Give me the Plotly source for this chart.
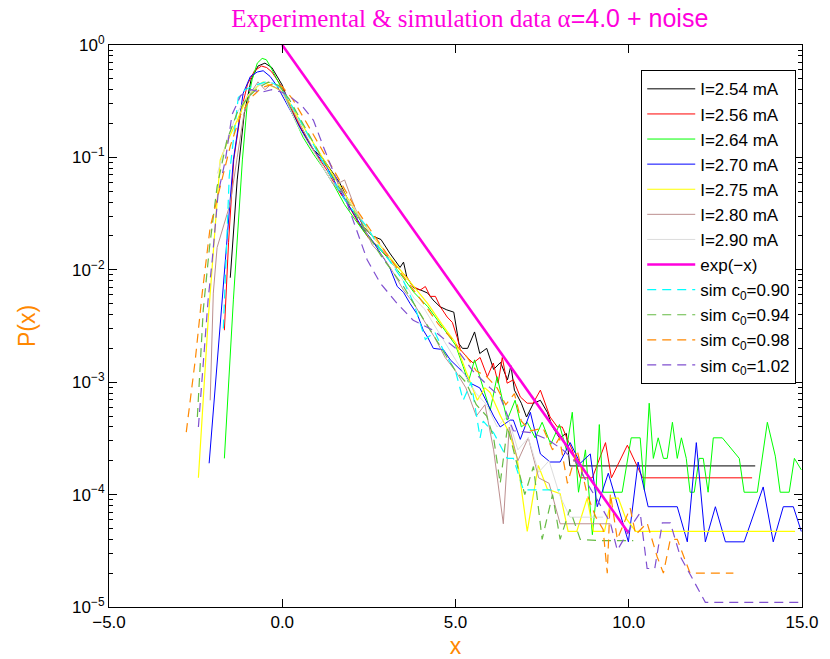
import plotly.graph_objects as go

# ---------------- data ----------------
x_254 = [-1.5, -1.3, -1.1, -0.9, -0.7, -0.5, -0.3, 0.0, 0.2, 0.45, 0.7, 0.9, 1.15, 1.4, 1.65, 1.9, 2.15, 2.35,
         2.6, 2.85, 3.1, 3.4, 3.5, 3.6, 3.8, 4.0, 4.2, 4.35, 4.55, 4.75, 4.95, 5.1, 5.2, 5.35, 5.55, 5.7, 5.9, 6.1,
         6.3, 6.5, 6.6, 6.7, 6.9, 7.05, 7.25, 7.45, 7.65, 7.8, 8.0, 8.2, 8.3, 13.65]
p_254 = [8.5e-3, 0.063, 0.24, 0.49, 0.65, 0.69, 0.63, 0.44, 0.30, 0.20, 0.15, 0.117, 0.10, 0.078, 0.060, 0.042, 0.032, 0.024,
         0.020, 0.0186, 0.0141, 0.0105, 0.0117, 0.0085, 0.0069, 0.0066, 0.0062, 0.0054, 0.0047, 0.0044, 0.0042, 0.0022, 0.0020, 0.0020, 0.0028, 0.0018, 0.0020, 0.0013,
         0.0015, 0.00105, 0.0014, 8.5e-4, 6.5e-4, 4.9e-4, 6.5e-4, 6.9e-4, 5.4e-4, 4.0e-4, 3.2e-4, 3.5e-4, 1.8e-4, 1.8e-4]

x_256 = [-1.67, -1.55, -1.4, -1.2, -1.0, -0.8, -0.6, -0.45, -0.3, 0.0, 0.25, 0.5, 0.75, 1.0, 1.3, 1.6, 1.9, 2.2, 2.5, 2.8,
         3.1, 3.4, 3.61, 3.78, 3.98, 4.13, 4.27, 4.42, 4.56, 4.76, 4.91, 5.05, 5.14, 5.34, 5.51, 5.71, 5.92, 6.09, 6.23, 6.35,
         6.49, 6.67, 6.87, 7.07, 7.24, 7.45, 7.59, 7.73, 7.94, 8.08, 8.23, 8.37, 8.6, 8.95, 9.33, 9.5, 9.96, 10.4, 13.56]
p_256 = [2.9e-3, 0.0174, 0.095, 0.25, 0.45, 0.59, 0.65, 0.63, 0.575, 0.42, 0.275, 0.19, 0.135, 0.105, 0.076, 0.052, 0.038, 0.026, 0.019, 0.0158,
         0.0126, 0.010, 0.0085, 0.0071, 0.0066, 0.0071, 0.0058, 0.0058, 0.0047, 0.0038, 0.0034, 0.0025, 0.00195, 0.00166, 0.00148, 0.00166, 0.00112, 0.00148, 9.8e-4, 0.00166,
         9.8e-4, 0.00105, 7.4e-4, 6.5e-4, 6.5e-4, 8.5e-4, 6.5e-4, 4.9e-4, 4.0e-4, 4.0e-4, 3.1e-4, 2.5e-4, 1.41e-4, 1.41e-4, 2.9e-4, 1.41e-4, 2.75e-4, 1.41e-4, 1.41e-4]

x_264 = [-1.67, -1.41, -1.15, -1.01, -0.87, -0.72, -0.58, -0.46, -0.35, -0.2, 0.0, 0.3, 0.6, 0.9, 1.2, 1.5, 1.8, 2.1, 2.4, 2.7,
         3.0, 3.4, 3.8, 4.2, 4.6, 5.0, 5.22, 5.37, 5.55, 5.8, 6.0, 6.2, 6.49, 6.72, 6.9, 7.07, 7.3, 7.5, 7.75, 8.0,
         8.2, 8.37, 8.55, 8.75, 8.95, 9.03, 9.15, 9.26, 9.52, 9.81, 10.07, 10.33, 10.45, 10.59, 10.71, 10.85, 11.0, 11.11, 11.26, 11.4,
         11.52, 11.66, 11.77, 11.89, 12.03, 12.15, 12.29, 12.44, 12.7, 13.19, 13.33, 13.71, 14.0, 14.23, 14.37, 14.63, 14.78, 14.98]
p_264 = [2.1e-4, 5.4e-3, 0.095, 0.30, 0.49, 0.69, 0.76, 0.74, 0.65, 0.525, 0.40, 0.24, 0.151, 0.107, 0.079, 0.056, 0.038, 0.028, 0.021, 0.0166,
         0.0132, 0.0093, 0.0063, 0.0047, 0.0032, 0.00214, 0.00138, 0.0010, 0.00158, 8.9e-4, 5.6e-4, 0.00112, 4.6e-4, 6.9e-4, 4.0e-4, 4.4e-4, 3.2e-4, 4.4e-4, 2.8e-4, 4.2e-4,
         2.5e-4, 5.4e-4, 1.05e-4, 2.5e-4, 4.4e-5, 7.8e-5, 4.2e-4, 1.05e-4, 1.05e-4, 1.05e-4, 3.2e-4, 3.2e-4, 1.1e-4, 6.5e-4, 2.1e-4, 3.2e-4, 2.1e-4, 2.1e-4, 4.4e-4, 2.1e-4,
         3.2e-4, 2.1e-4, 1.05e-4, 1.05e-4, 2.1e-4, 2.1e-4, 1.05e-4, 3.2e-4, 3.2e-4, 2.1e-4, 1.05e-4, 1.05e-4, 4.4e-4, 2.2e-4, 1.05e-4, 1.05e-4, 2.1e-4, 1.66e-4]

x_270 = [-2.11, -1.76, -1.41, -1.13, -0.92, -0.72, -0.55, -0.35, -0.14, 0.23, 0.72, 1.0, 1.3, 1.59, 1.96, 2.3, 2.6, 2.83, 3.1, 3.32,
         3.5, 3.69, 3.9, 4.07, 4.2, 4.36, 4.65, 4.85, 5.05, 5.25, 5.43, 5.7, 5.92, 6.1, 6.29, 6.58, 6.67, 6.87, 7.16, 7.45,
         7.73, 8.02, 8.31, 8.6, 8.89, 9.09, 9.41, 9.84, 9.99, 10.27, 10.56, 11.4, 11.69, 11.95, 12.21, 12.5, 12.79, 13.33, 13.88, 14.17,
         14.46, 14.75, 14.98]
p_270 = [1.9e-4, 4.4e-3, 0.095, 0.37, 0.525, 0.575, 0.59, 0.525, 0.427, 0.263, 0.141, 0.107, 0.081, 0.055, 0.0355, 0.024, 0.0182, 0.0141, 0.0105, 0.0071,
         0.0063, 0.0050, 0.0040, 0.0029, 0.0025, 0.0020, 0.00195, 0.00158, 0.00138, 0.0012, 9.8e-4, 8.9e-4, 6.5e-4, 5.0e-4, 4.0e-4, 4.6e-4, 4.6e-4, 3.1e-4, 5.4e-4, 2.3e-4,
         1.95e-4, 1.95e-4, 2.9e-4, 1.9e-4, 2.3e-4, 7.8e-5, 1.55e-4, 5.6e-5, 3.8e-5, 1.95e-4, 7.8e-5, 7.8e-5, 3.8e-5, 2.9e-4, 3.8e-5, 7.8e-5, 3.8e-5, 3.8e-5, 1.17e-4, 3.8e-5,
         7.8e-5, 7.8e-5, 4.7e-5]

x_275 = [-2.42, -2.14, -1.79, -1.5, -1.3, -1.01, -0.72, -0.55, -0.35, -0.06, 0.23, 0.6, 1.0, 1.4, 1.8, 2.2, 2.6, 3.0, 3.4, 3.8,
         4.2, 4.6, 5.0, 5.3, 5.63, 5.85, 6.0, 6.3, 6.55, 6.78, 7.07, 7.39, 7.65, 8.02, 8.25, 8.5, 8.8, 8.98, 9.3, 9.5,
         9.7, 9.9, 10.2, 14.8]
p_275 = [1.41e-4, 3.5e-3, 0.095, 0.158, 0.214, 0.347, 0.427, 0.468, 0.437, 0.398, 0.30, 0.19, 0.12, 0.076, 0.048, 0.030, 0.020, 0.0141, 0.010, 0.0071,
         0.0050, 0.0033, 0.00224, 0.00126, 6.9e-4, 8.9e-4, 8.1e-4, 5.0e-4, 3.55e-4, 2.1e-4, 4.7e-5, 1.82e-4, 1.12e-4, 1.02e-4, 4.7e-5, 4.7e-5, 9.3e-5, 4.7e-5, 4.7e-5, 9.3e-5,
         9.3e-5, 6.3e-5, 4.7e-5, 4.7e-5]

x_280 = [-2.08, -1.99, -1.88, -1.7, -1.5, -1.3, -1.1, -0.9, -0.7, -0.5, -0.35, -0.2, 0.0, 0.3, 0.6, 0.9, 1.2, 1.5, 1.8, 2.1,
         2.35, 2.6, 2.9, 3.2, 3.5, 3.8, 4.1, 4.4, 4.7, 5.0, 5.3, 5.6, 5.85, 6.1, 6.38, 6.55, 6.8, 7.1, 7.4, 7.7,
         8.02, 9.47]
p_280 = [6.9e-4, 6.2e-3, 0.0158, 0.024, 0.039, 0.10, 0.25, 0.38, 0.47, 0.40, 0.44, 0.42, 0.38, 0.263, 0.178, 0.12, 0.079, 0.056, 0.063, 0.0355,
         0.024, 0.0166, 0.0132, 0.0095, 0.0066, 0.0050, 0.0035, 0.0025, 0.00166, 0.00126, 8.9e-4, 5.0e-4, 6.3e-4, 2.5e-4, 5.5e-5, 4.0e-4, 2.0e-4, 3.2e-4, 1.41e-4, 1.26e-4,
         5.5e-5, 5.5e-5]

x_290 = [-1.87, -1.6, -1.3, -1.0, -0.7, -0.4, -0.1, 0.2, 0.5, 0.8, 1.1, 1.4, 1.7, 2.0, 2.3, 2.6, 2.9, 3.2, 3.5, 3.8,
         4.1, 4.4, 4.7, 5.0, 5.3, 5.6, 5.9, 6.2, 6.5, 6.8, 7.1, 7.4, 7.7, 8.0, 8.3, 9.26]
p_290 = [0.072, 0.141, 0.25, 0.355, 0.437, 0.468, 0.437, 0.28, 0.178, 0.126, 0.089, 0.063, 0.050, 0.038, 0.028, 0.020, 0.0158, 0.0112, 0.0079, 0.0056,
         0.0045, 0.0032, 0.00224, 0.00158, 0.00112, 7.9e-4, 6.3e-4, 4.0e-4, 5.0e-4, 2.5e-4, 3.2e-4, 1.58e-4, 2.0e-4, 1.0e-4, 6.3e-5, 6.3e-5]

exp_x = [0.0, 10.0]
exp_p = [1.0, 4.54e-5]

x_sim090 = [-1.70, -1.64, -1.53, -1.27, -1.07, -0.8, -0.5, -0.25, 0.0, 0.3, 0.6, 0.9, 1.2, 1.5, 1.8, 2.1, 2.45, 2.8, 3.1, 3.5,
            3.8, 4.13, 4.4, 4.7, 5.0, 5.22, 5.45, 5.71, 5.8, 6.1, 6.49, 6.67, 6.96, 8.02]
p_sim090 = [3.0e-3, 8.7e-3, 0.068, 0.34, 0.40, 0.437, 0.468, 0.457, 0.40, 0.28, 0.19, 0.132, 0.089, 0.060, 0.042, 0.032, 0.024, 0.0158, 0.012, 0.0079,
            0.0050, 0.0024, 0.0028, 0.00178, 0.00126, 6.9e-4, 1.0e-3, 3.2e-4, 4.5e-4, 3.55e-4, 2.1e-4, 2.1e-4, 1.1e-4, 1.1e-4]

x_sim094 = [-2.45, -2.28, -2.1, -1.88, -1.6, -1.3, -1.0, -0.7, -0.4, -0.1, 0.2, 0.5, 0.8, 1.1, 1.4, 1.7, 2.0, 2.3, 2.6, 2.9,
            3.2, 3.5, 3.8, 4.1, 4.4, 4.7, 5.0, 5.3, 5.6, 5.9, 6.1, 6.29, 6.5, 6.75, 7.0, 7.25, 7.5, 7.8, 8.02, 8.3,
            8.6, 9.09, 10.13]
p_sim094 = [4.9e-4, 4.4e-3, 0.0158, 0.055, 0.141, 0.25, 0.34, 0.417, 0.468, 0.437, 0.33, 0.224, 0.151, 0.105, 0.072, 0.050, 0.0355, 0.025, 0.0178, 0.0126,
            0.0095, 0.0071, 0.0050, 0.00355, 0.0025, 0.00178, 0.00126, 0.0010, 6.3e-4, 5.0e-4, 3.2e-4, 1.26e-4, 4.0e-4, 2.0e-4, 1.0e-4, 1.78e-4, 4.0e-5, 1.0e-4, 4.0e-5, 7.4e-5,
            4.0e-5, 3.9e-5, 3.9e-5]

x_sim098 = [-2.77, -2.51, -2.31, -2.08, -1.79, -1.5, -1.2, -0.9, -0.6, -0.3, 0.0, 0.3, 0.6, 0.9, 1.2, 1.5, 1.8, 2.1, 2.4, 2.7,
            3.0, 3.3, 3.6, 3.9, 4.2, 4.5, 4.91, 5.1, 5.34, 5.6, 5.9, 6.2, 6.45, 6.7, 6.9, 7.16, 7.53, 7.8, 8.0, 8.23,
            8.51, 8.8, 9.05, 9.26, 9.38, 9.47, 9.67, 10.04, 10.2, 10.53, 10.82, 11.0, 11.2, 11.4, 11.77, 13.02]
p_sim098 = [3.6e-4, 1.58e-3, 6.2e-3, 0.024, 0.055, 0.126, 0.24, 0.34, 0.417, 0.447, 0.427, 0.33, 0.23, 0.158, 0.11, 0.076, 0.0525, 0.036, 0.0263, 0.019,
            0.0141, 0.0105, 0.0079, 0.006, 0.00447, 0.0033, 0.0024, 0.0020, 0.00166, 0.00126, 0.00112, 8.9e-4, 6.3e-4, 7.9e-4, 4.5e-4, 3.7e-4, 3.9e-4, 2.5e-4, 3.2e-4, 1.26e-4,
            2.5e-4, 1.0e-4, 6.3e-5, 4.9e-5, 2.0e-5, 1.02e-4, 4.0e-5, 7.6e-5, 4.4e-5, 5.6e-5, 2.8e-5, 2.0e-5, 4.0e-5, 4.0e-5, 2.0e-5, 2.0e-5]

x_sim102 = [-2.42, -2.28, -2.14, -2.02, -1.85, -1.64, -1.45, -1.2, -0.9, -0.6, -0.3, 0.0, 0.23, 0.6, 0.9, 1.18, 1.5, 1.8, 2.05, 2.45,
            2.83, 3.32, 3.78, 4.36, 5.05, 5.5, 6.0, 6.29, 6.67, 7.2, 7.65, 8.1, 8.51, 8.8, 9.1, 9.47, 9.67, 9.85, 10.13, 10.33,
            10.53, 10.75, 10.97, 11.2, 11.49, 11.86, 12.21, 14.95]
p_sim102 = [4.0e-4, 1.58e-3, 5.4e-3, 0.0123, 0.048, 0.095, 0.24, 0.355, 0.40, 0.38, 0.40, 0.38, 0.347, 0.28, 0.214, 0.126, 0.071, 0.045, 0.0275, 0.0123,
            0.0076, 0.0050, 0.00355, 0.0029, 0.00195, 0.00126, 8.9e-4, 7.4e-4, 3.7e-4, 3.55e-4, 3.1e-4, 2.5e-4, 1.9e-4, 1.26e-4, 8.9e-5, 5.6e-5, 3.2e-5, 4.0e-5, 5.6e-5, 6.9e-5,
            2.2e-5, 2.2e-5, 5.6e-5, 5.6e-5, 2.8e-5, 1.74e-5, 1.1e-5, 1.1e-5]

series_names = ["I=2.54 mA", "I=2.56 mA", "I=2.64 mA", "I=2.70 mA", "I=2.75 mA", "I=2.80 mA", "I=2.90 mA",
                "exp(\u2212x)", "sim c<sub>0</sub>=0.90", "sim c<sub>0</sub>=0.94",
                "sim c<sub>0</sub>=0.98", "sim c<sub>0</sub>=1.02"]
y_tick_vals = [1e-5, 1e-4, 1e-3, 1e-2, 1e-1, 1.0]
y_tick_text = ["10<sup>\u22125</sup>", "10<sup>\u22124</sup>", "10<sup>\u22123</sup>",
               "10<sup>\u22122</sup>", "10<sup>\u22121</sup>", "10<sup>0</sup>"]
x_tick_vals = [-5, 0, 5, 10, 15]

# ---------------- styling ----------------
series_data = [(x_254, p_254), (x_256, p_256), (x_264, p_264), (x_270, p_270), (x_275, p_275),
               (x_280, p_280), (x_290, p_290), (exp_x, exp_p), (x_sim090, p_sim090),
               (x_sim094, p_sim094), (x_sim098, p_sim098), (x_sim102, p_sim102)]
colors = ["#000000", "#ff0000", "#00ff00", "#0000ff", "#ffff00", "#bc8f8f", "#dcdcdc",
          "#ff00dd", "#00ffff", "#66bb44", "#ff8800", "#8050d0"]
widths = [1, 1, 1, 1, 1.2, 1, 1, 2.6, 1.2, 1.2, 1.2, 1.2]
dashes = ["solid"] * 8 + ["9px,6px"] * 4

fig = go.Figure()
for i, ((xs, ps), name) in enumerate(zip(series_data, series_names)):
    fig.add_trace(go.Scatter(
        x=xs, y=ps, mode="lines", name=name,
        line=dict(color=colors[i], width=widths[i], dash=dashes[i]),
    ))

minor_vals = [m * 10.0 ** e for e in range(-5, 0) for m in range(2, 10)]
axis_font = dict(family="Liberation Sans, Arial, sans-serif", size=17, color="#000000")

fig.update_layout(
    width=830, height=659,
    margin=dict(l=109, r=28, t=45, b=52),
    paper_bgcolor="#ffffff", plot_bgcolor="#ffffff",
    showlegend=True,
    title=dict(
        text="<span style='font-family:Liberation Serif, Times New Roman, serif'>Experimental &amp; simulation data </span>"
             "<span style='font-family:Liberation Serif, serif'>\u03b1</span>"
             "<span style='font-family:Liberation Sans, Arial, sans-serif'>=4.0 + noise</span>",
        font=dict(size=25, color="#ff00dd"),
        x=0.566, xref="container", xanchor="center",
        y=0.972, yref="container", yanchor="middle",
    ),
    legend=dict(
        x=0.768, y=0.955, xanchor="left", yanchor="top",
        bgcolor="#ffffff", bordercolor="#000000", borderwidth=1,
        font=dict(family="Liberation Sans, Arial, sans-serif", size=17, color="#000000"),
        itemwidth=48,
    ),
    xaxis=dict(
        range=[-5, 15], tickmode="array", tickvals=x_tick_vals, tickformat=".1f",
        ticks="inside", ticklen=8, tickcolor="#000000", mirror="allticks",
        showline=True, linecolor="#000000", linewidth=1, automargin=False,
        showgrid=False, zeroline=False, tickfont=axis_font,
        title=dict(text="x", font=dict(family="Liberation Sans, Arial, sans-serif", size=23, color="#ff8800"), standoff=8),
    ),
    yaxis=dict(
        type="log", range=[-5, 0], tickmode="array", tickvals=y_tick_vals, ticktext=y_tick_text,
        ticks="inside", ticklen=8, tickcolor="#000000", mirror="allticks",
        showline=True, linecolor="#000000", linewidth=1, automargin=False,
        showgrid=False, zeroline=False, tickfont=axis_font,
        minor=dict(tickmode="array", tickvals=minor_vals, ticks="inside", ticklen=4, tickcolor="#000000"),
        title=dict(text="P(x)", font=dict(family="Liberation Sans, Arial, sans-serif", size=23, color="#ff8800"), standoff=30),
    ),
)

fig.write_html("out.html")
